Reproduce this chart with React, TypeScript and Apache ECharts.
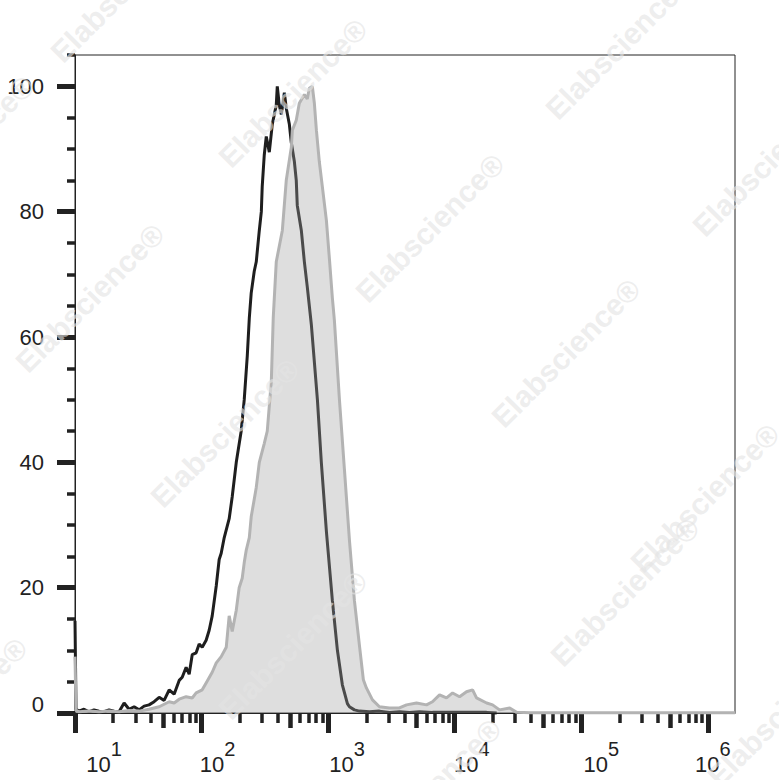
import React, { useEffect, useRef } from "react";
import * as echarts from "echarts";

// log10 of fluorescence intensity (x) and % of max (y)
const controlLog = [1.0, 1.008, 1.032, 1.071, 1.111, 1.15, 1.19, 1.229, 1.269, 1.309, 1.348, 1.388, 1.427, 1.467, 1.506, 1.546, 1.585, 1.625, 1.665, 1.704, 1.744, 1.783, 1.823, 1.847, 1.878, 1.902, 1.926, 1.957, 1.981, 2.005, 2.036, 2.06, 2.084, 2.116, 2.139, 2.155, 2.179, 2.218, 2.242, 2.274, 2.313, 2.337, 2.361, 2.377, 2.392, 2.416, 2.432, 2.456, 2.472, 2.479, 2.495, 2.511, 2.535, 2.559, 2.59, 2.598, 2.614, 2.63, 2.654, 2.669, 2.693, 2.709, 2.733, 2.748, 2.756, 2.788, 2.812, 2.835, 2.867, 2.915, 2.946, 2.986, 3.033, 3.073, 3.112, 3.152, 3.168, 3.207, 3.247, 3.326, 3.405, 3.484, 3.563, 3.642, 3.722, 3.824, 3.935, 4.038, 4.141, 4.252, 4.331];
const controlPct = [14.7, 0.6, 0.3, 0.6, 0.2, 0.5, 0.3, 0.2, 0.5, 0.3, 0.2, 1.6, 0.6, 1.0, 0.5, 1.1, 1.3, 1.8, 2.5, 2.0, 3.7, 3.0, 5.2, 5.7, 7.3, 6.2, 9.3, 9.6, 11.0, 10.5, 11.6, 13.2, 15.5, 20.3, 24.5, 25.5, 28, 31, 34.5, 40, 45, 50, 57, 63, 67, 70.5, 72, 77, 80, 84, 89, 92, 89.5, 94, 97, 100, 97, 95.5, 99, 96.5, 94, 91, 88, 85, 81, 77, 72, 68, 62, 50, 40, 29, 18, 10, 4.5, 1.5, 1.0, 0.5, 0.3, 0.2, 0.3, 0.1, 0.2, 0.1, 0.2, 0.1, 0.1, 0.1, 0.1, 0.1, 0.0];

const stainedLog = [1.0, 1.008, 1.032, 1.111, 1.19, 1.269, 1.348, 1.427, 1.506, 1.585, 1.665, 1.744, 1.783, 1.823, 1.878, 1.926, 1.957, 2.005, 2.036, 2.084, 2.116, 2.155, 2.195, 2.218, 2.242, 2.274, 2.297, 2.321, 2.337, 2.353, 2.377, 2.392, 2.432, 2.456, 2.495, 2.519, 2.551, 2.566, 2.59, 2.638, 2.669, 2.709, 2.717, 2.748, 2.772, 2.812, 2.835, 2.851, 2.875, 2.891, 2.907, 2.93, 2.954, 2.986, 3.009, 3.033, 3.049, 3.089, 3.128, 3.168, 3.207, 3.247, 3.278, 3.302, 3.35, 3.405, 3.484, 3.563, 3.619, 3.698, 3.777, 3.824, 3.88, 3.935, 3.983, 4.038, 4.093, 4.141, 4.172, 4.252, 4.299, 4.354, 4.434, 4.489, 4.6, 6.214];
const stainedPct = [9, 0.4, 0.2, 0.3, 0.2, 0.3, 0.2, 0.4, 0.3, 0.6, 1.0, 1.8, 1.6, 2.2, 2.6, 2.4, 3.2, 3.7, 4.8, 6.5, 8, 9, 10.5, 15.5, 13, 16.4, 20, 21.5, 24, 26, 28, 31.3, 36, 40, 43, 45, 53, 63, 72, 77, 85, 90.3, 93, 94.6, 97.3, 98.7, 98, 99.7, 100, 97.3, 93, 88, 84, 78.6, 72.7, 66.3, 62.7, 50, 39, 27.6, 18, 10.8, 5.3, 4.0, 2.1, 1.0, 0.8, 0.8, 1.3, 1.6, 1.3, 1.8, 2.9, 2.4, 3.2, 2.6, 3.4, 3.7, 2.4, 1.6, 1.3, 0.5, 0.8, 0.1, 0.05, 0.05];

const xMajor = [1, 2, 3, 4, 5, 6];
const xMinorMult = [2, 3, 4, 6, 7, 8, 9];
const xMidMult = [5];
const yMajor = [0, 20, 40, 60, 80, 100];
const yMinor = [5, 10, 15, 25, 30, 35, 45, 50, 55, 65, 70, 75, 85, 90, 95, 105];

const watermarkText = "Elabscience®";

// styling / placement constants
const X_MIN = 1;
const X_MAX = 6.214;
const Y_MAX = 105;
const labelShift: Record<number, number> = { 1: 58, 2: 32, 3: 38, 4: 34, 5: 40, 6: 10 };
const watermarkSpots = [
  [293, 93], [620, 45], [-40, 150], [430, 228], [767, 162], [90, 298], [566, 353],
  [225, 433], [705, 498], [293, 645], [625, 592], [125, -12], [-47, 712], [427, 793], [782, 712],
];

const FONT = 'Arial, "Liberation Sans", "DejaVu Sans", sans-serif';
const INK = "#222222";

function zip(xs: number[], ys: number[]) {
  return xs.map((x, i) => [x, ys[i]]);
}

export default function App() {
  const ref = useRef<HTMLDivElement>(null);
  useEffect(() => {
    if (!ref.current) return;
    const chart = echarts.init(ref.current, undefined, { renderer: "svg" });

    const minorVals: number[] = [];
    const midVals: number[] = [];
    for (let d = 1; d <= 6; d++) {
      xMinorMult.forEach((m) => {
        const v = d + Math.log10(m);
        if (v <= X_MAX) minorVals.push(v);
      });
      xMidMult.forEach((m) => {
        const v = d + Math.log10(m);
        if (v <= X_MAX) midVals.push(v);
      });
    }

    const rich: Record<string, any> = {
      s: { fontSize: 20, fontFamily: FONT, color: INK, padding: [0, 0, 30, 0] },
    };
    xMajor.forEach((n) => {
      rich["b" + n] = { fontSize: 22, fontFamily: FONT, color: INK, padding: [0, 0, 0, labelShift[n]] };
    });

    const grid = { left: 75, right: 44, top: 55, bottom: 67 };

    const baseX = {
      type: "value",
      min: X_MIN,
      max: X_MAX,
      position: "bottom",
      splitLine: { show: false },
      axisLine: { show: false, onZero: false },
      axisLabel: { show: false },
    };
    const baseY = {
      type: "value",
      min: 0,
      max: Y_MAX,
      position: "left",
      splitLine: { show: false },
      axisLine: { show: false, onZero: false },
      axisLabel: { show: false },
    };

    chart.setOption({
      animation: false,
      backgroundColor: "#ffffff",
      grid: { ...grid, show: true, borderColor: INK, borderWidth: 1, backgroundColor: "transparent" },
      xAxis: [
        {
          ...baseX,
          axisLine: { show: true, onZero: false, lineStyle: { color: INK, width: 1 } },
          axisTick: { show: true, customValues: xMajor, length: 20, lineStyle: { color: INK, width: 5 } },
          axisLabel: {
            show: true,
            customValues: xMajor,
            margin: 26,
            formatter: (v: number) => {
              const n = Math.round(v);
              return `{b${n}|10}{s|${n}}`;
            },
            rich,
          },
        },
        {
          ...baseX,
          axisTick: { show: true, customValues: minorVals, length: 10, lineStyle: { color: INK, width: 3.5 } },
        },
        {
          ...baseX,
          axisTick: { show: true, customValues: midVals, length: 15, lineStyle: { color: INK, width: 4.5 } },
        },
      ],
      yAxis: [
        {
          ...baseY,
          axisLine: { show: true, onZero: false, lineStyle: { color: INK, width: 1 } },
          axisTick: { show: true, customValues: yMajor, length: 18, lineStyle: { color: INK, width: 5 } },
          axisLabel: {
            show: true,
            customValues: yMajor,
            margin: 31,
            fontSize: 22,
            fontFamily: FONT,
            color: INK,
            formatter: (v: number) => (v === 0 ? "{z|0}" : String(v)),
            rich: { z: { fontSize: 22, fontFamily: FONT, color: INK, padding: [0, 0, 18, 0] } },
          },
        },
        {
          ...baseY,
          axisTick: { show: true, customValues: yMinor, length: 8, lineStyle: { color: INK, width: 3.5 } },
        },
      ],
      series: [
        {
          name: "Isotype control",
          type: "line",
          data: zip(controlLog, controlPct),
          showSymbol: false,
          symbol: "none",
          clip: false,
          lineStyle: { color: "#1e1e1e", width: 3 },
          z: 2,
        },
        {
          name: "Stained",
          type: "line",
          data: zip(stainedLog, stainedPct),
          showSymbol: false,
          symbol: "none",
          clip: false,
          lineStyle: { color: "#b3b3b3", width: 3 },
          areaStyle: { color: "rgba(160,160,160,0.5)", origin: "start" },
          z: 3,
        },
      ],
      graphic: watermarkSpots.map(([x, y]) => ({
        type: "text",
        x,
        y,
        rotation: Math.PI / 4,
        z: 100,
        silent: true,
        style: {
          text: watermarkText,
          font: `bold 30px ${FONT}`,
          fill: "rgba(228,228,228,0.65)",
          textAlign: "center",
          textVerticalAlign: "middle",
          align: "center",
          verticalAlign: "middle",
        },
      })),
    });
    return () => chart.dispose();
  }, []);
  return (
    <div
      ref={ref}
      style={{ position: "fixed", left: 0, top: 0, width: 779, height: 780, background: "#fff" }}
    />
  );
}
